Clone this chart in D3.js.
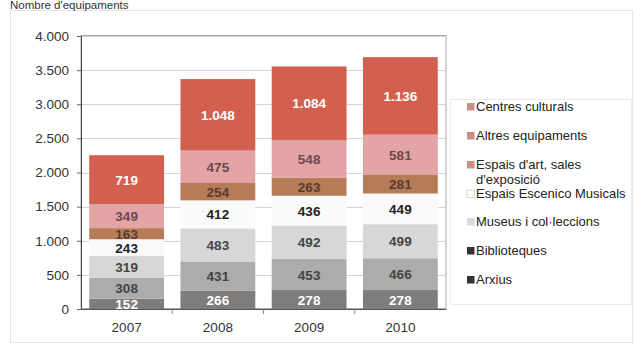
<!DOCTYPE html>
<html><head><meta charset="utf-8">
<script src="https://cdn.jsdelivr.net/npm/d3@7/dist/d3.min.js"></script>
<style>body{margin:0;background:#fff;}svg{display:block;font-family:"Liberation Sans",Arial,sans-serif;}</style>
</head><body><svg id="c" width="642" height="346"></svg>
<script>
const years = ["2007","2008","2009","2010"];
const seriesNames = ["Arxius","Biblioteques","Museus i col·leccions","Espais Escenico Musicals","Espais d'art, sales d'exposició","Altres equipaments","Centres culturals"];
const arxius = [152,266,278,278];
const biblioteques = [308,431,453,466];
const museus = [319,483,492,499];
const escenics = [243,412,436,449];
const espaisArt = [163,254,263,281];
const altres = [349,475,548,581];
const centres = [719,1048,1084,1136];
const yTicks = [0,500,1000,1500,2000,2500,3000,3500,4000];
const legendOrder = ["Centres culturals","Altres equipaments","Espais d'art, sales d'exposició","Espais Escenico Musicals","Museus i col·leccions","Biblioteques","Arxius"];

const values = [arxius,biblioteques,museus,escenics,espaisArt,altres,centres];
const fills = ["#7d7d7d","#acacac","#d7d7d7","#fafafa","#b67b57","#e4a3a5","#d3604f"];
const textCols = ["#ffffff","#444444","#444444","#222222","#5a3a2e","#6a484c","#ffffff"];
const legendFills = {"Centres culturals":"#c9907f","Altres equipaments":"#c9907f","Espais d'art, sales d'exposició":"#c9907f","Espais Escenico Musicals":"#ffffff","Museus i col·leccions":"#d9d9d9","Biblioteques":"#333333","Arxius":"#333333"};

const rows = years.map((y,i)=>{const o={year:y}; seriesNames.forEach((s,k)=>o[s]=values[k][i]); return o;});
const stack = d3.stack().keys(seriesNames)(rows);

const svg = d3.select("#c");
const fmt = v => d3.format(",")(v).replace(/,/g,".");

// outer frame
svg.append("rect").attr("x",10.5).attr("y",10.5).attr("width",622).attr("height",332).attr("fill","#fff").attr("stroke","#e4e4e4");
svg.append("text").attr("x",10).attr("y",9).attr("font-size",11.5).attr("fill","#333").text("Nombre d'equipaments");

const m = {l:81,r:446,t:36,b:309};
const x = d3.scaleBand().domain(years).range([m.l,m.r]).paddingInner(0.18).paddingOuter(0.09);
const y = d3.scaleLinear().domain([0,4000]).range([m.b,m.t]);

// plot frame
svg.append("rect").attr("x",m.l).attr("y",m.t-0.5).attr("width",m.r-m.l).attr("height",m.b-m.t).attr("fill","#fff").attr("stroke","#a8a8a8");
// gridlines
svg.append("g").selectAll("line").data(yTicks.slice(1)).join("line")
  .attr("x1",m.l).attr("x2",m.r).attr("y1",d=>Math.round(y(d))+0.5).attr("y2",d=>Math.round(y(d))+0.5)
  .attr("stroke","#d4d4d4");

// bars
const g = svg.append("g");
stack.forEach((layer,k)=>{
  g.append("g").selectAll("rect").data(layer).join("rect")
    .attr("x",d=>x(d.data.year)).attr("width",x.bandwidth())
    .attr("y",d=>y(d[1])).attr("height",d=>y(d[0])-y(d[1]))
    .attr("fill",fills[k]);
});
stack.forEach((layer,k)=>{
  g.append("g").selectAll("text").data(layer).join("text")
    .attr("x",d=>x(d.data.year)+x.bandwidth()/2)
    .attr("y",d=>(y(d[0])+y(d[1]))/2+5)
    .attr("text-anchor","middle").attr("font-size",13.5).attr("font-weight","bold")
    .attr("fill",textCols[k]).text(d=>fmt(d[1]-d[0]));
});

// axes
const ya = d3.axisLeft(y).tickValues(yTicks).tickSize(4).tickFormat(fmt);
const yg = svg.append("g").attr("transform",`translate(${m.l},0)`).call(ya);
yg.select(".domain").attr("stroke","#444");
yg.selectAll(".tick line").attr("stroke","#666");
yg.selectAll("text").attr("font-size",13.5).attr("fill","#333").attr("x",-12).attr("font-family","Liberation Sans, Arial, sans-serif");

const xa = d3.axisBottom(x).tickSize(0);
const xg = svg.append("g").attr("transform",`translate(0,${m.b})`).call(xa);
xg.select(".domain").attr("stroke","#555");
xg.selectAll("text").attr("font-size",13.5).attr("fill","#333").attr("dy","1.5em").attr("font-family","Liberation Sans, Arial, sans-serif");
// band boundary ticks
const step = x.step();
xg.append("g").selectAll("line").data(years.slice(1)).join("line")
  .attr("x1",d=>x(d)-step*x.paddingInner()/2).attr("x2",d=>x(d)-step*x.paddingInner()/2)
  .attr("y1",0).attr("y2",5).attr("stroke","#888");

// legend
svg.append("rect").attr("x",450.5).attr("y",99.5).attr("width",181).attr("height",205).attr("fill","#fff").attr("stroke","#ececec");
const ly = [108,137,166,195,223,252,281];
const lg = svg.append("g");
legendOrder.forEach((name,i)=>{
  const sq = lg.append("rect").attr("x",467).attr("y",ly[i]-5).attr("width",7.5).attr("height",7.5).attr("fill",legendFills[name]);
  if(name==="Espais Escenico Musicals") sq.attr("stroke","#cccccc").attr("stroke-width",0.8);
  const t = lg.append("text").attr("x",476).attr("y",ly[i]+3).attr("font-size",13).attr("fill","#222");
  if(name.startsWith("Espais d'art")){
    t.append("tspan").attr("x",476).text("Espais d'art, sales");
    t.append("tspan").attr("x",476).attr("dy",14.5).text("d'exposició");
  } else t.text(name);
});
</script></body></html>
